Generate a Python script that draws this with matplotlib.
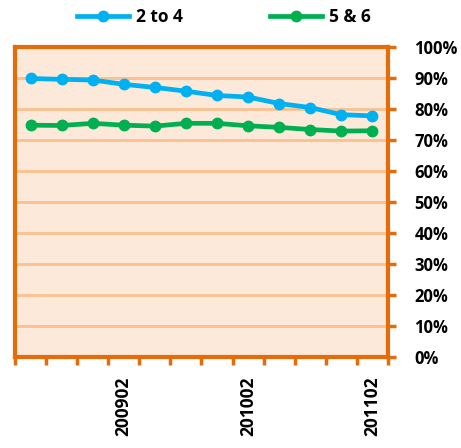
import matplotlib.pyplot as plt
from matplotlib.ticker import PercentFormatter

periods = ["200805", "200808", "200811", "200902", "200905", "200908",
           "200911", "201002", "201005", "201008", "201011", "201102"]
share_2_to_4 = [90.0, 89.7, 89.5, 88.1, 87.1, 85.9, 84.5, 84.0, 81.9, 80.6, 78.3, 77.9]
share_5_and_6 = [74.9, 74.8, 75.5, 74.9, 74.6, 75.5, 75.5, 74.7, 74.2, 73.5, 73.0, 73.1]

orange = "#E46C0A"
plt.rcParams['font.family'] = ['Open Sans', 'DejaVu Sans']
plt.rcParams['font.weight'] = 'bold'

fig = plt.figure(figsize=(4.61, 4.48), dpi=100)
ax = fig.add_axes([0.0325, 0.203, 0.809, 0.691])
ax.set_facecolor("#FDE9D9")

x = list(range(len(periods)))
ax.plot(x, share_2_to_4, color="#00B0F0", lw=3.4, marker="o", ms=7.5, label="2 to 4")
ax.plot(x, share_5_and_6, color="#00B050", lw=3.4, marker="o", ms=7.5, label="5 & 6")

ax.set_xlim(-0.5, len(periods) - 0.5)
ax.set_ylim(0, 100)
ax.set_yticks(range(0, 101, 10))
ax.yaxis.set_major_formatter(PercentFormatter(decimals=0))
ax.yaxis.tick_right()
ax.grid(axis="y", color="#FAC090", lw=2)
ax.set_axisbelow(True)

# category boundaries get the tick marks, only every 4th period is labelled
ax.set_xticks([i - 0.5 for i in range(len(periods) + 1)], [""] * (len(periods) + 1))
ax.set_xticks([3, 7, 11], [periods[i] for i in (3, 7, 11)], minor=True)
ax.tick_params(axis="x", which="minor", length=0, pad=14, rotation=90, labelsize=12.5)
ax.tick_params(axis="x", which="major", length=6, width=2.5, color=orange)
ax.tick_params(axis="y", length=6, width=2.5, color=orange, labelsize=12, pad=13)

for s in ax.spines.values():
    s.set_color(orange)
    s.set_linewidth(3)

ax.legend(loc="lower center", bbox_to_anchor=(0.56, 1.02), ncol=2, frameon=False,
          fontsize=12.5, handlelength=3.0, handletextpad=0.4, columnspacing=5.0)

plt.savefig("out.png", dpi=100)
